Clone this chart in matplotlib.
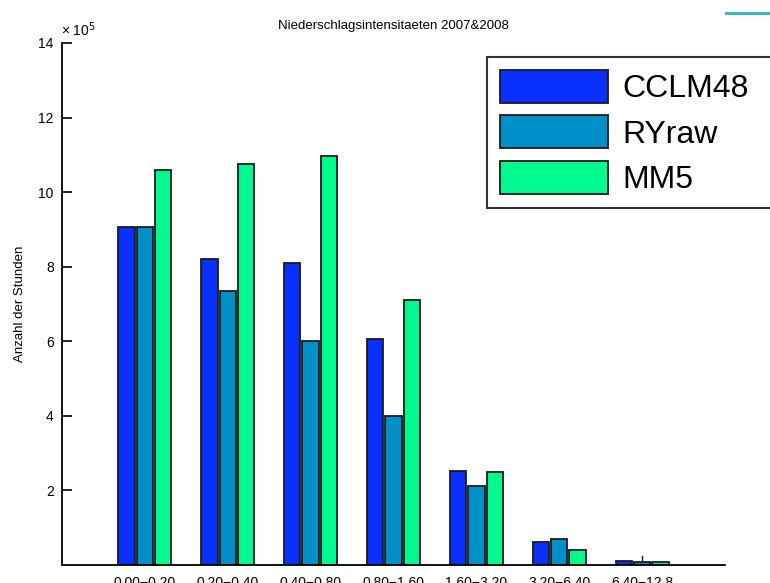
import numpy as np
import matplotlib
matplotlib.use("Agg")
import matplotlib.pyplot as plt
from matplotlib.ticker import FuncFormatter
from matplotlib.lines import Line2D

plt.rcParams['font.family'] = ['Liberation Sans', 'DejaVu Sans']

# precipitation intensity classes (mm/h)
classes = ["0.00\u22120.20", "0.20\u22120.40", "0.40\u22120.80", "0.80\u22121.60",
           "1.60\u22123.20", "3.20\u22126.40", "6.40\u221212.8"]

# number of hours per class
cclm48 = [9.07e5, 8.22e5, 8.10e5, 6.05e5, 2.53e5, 0.61e5, 0.12e5]
ryraw = [9.07e5, 7.36e5, 6.01e5, 4.00e5, 2.12e5, 0.69e5, 0.08e5]
mm5 = [10.59e5, 10.75e5, 10.97e5, 7.11e5, 2.49e5, 0.40e5, 0.08e5]

# y tick values (hours)
yticks = [2e5, 4e5, 6e5, 8e5, 10e5, 12e5, 14e5]
exponent = 5

series = [("CCLM48", cclm48, "#0A30FF"),
          ("RYraw", ryraw, "#0090C8"),
          ("MM5", mm5, "#00FA90")]

W, H, DPI = 770, 583, 100
fig = plt.figure(figsize=(W / DPI, H / DPI), dpi=DPI)
ax = fig.add_axes([62 / W, 1 - 565 / H, (725 - 62) / W, (565 - 43) / H])

x = np.arange(1, len(classes) + 1)
bw = 0.198
pitch = 0.222
for i, (name, vals, col) in enumerate(series):
    ax.bar(x + (i - 1) * pitch, vals, width=bw, color=col,
           edgecolor="#1a1a1a", linewidth=1.3, label=name, zorder=2)

# small stem on top of the last RYraw bar
ax.plot([x[-1], x[-1]], [ryraw[-1], ryraw[-1] + 0.15e5], color="#1a1a1a",
        linewidth=1.0, zorder=3)

ax.set_xlim(0, 8)
ax.set_ylim(0, 14e5)
ax.set_yticks(yticks)
ax.yaxis.set_major_formatter(FuncFormatter(lambda v, p: f"{v / 10**exponent:g}"))
ax.set_xticks(x)
ax.set_xticklabels(classes, fontsize=10)

# exponent label above the y axis
ax.annotate(r"× 10$^{%d}$" % exponent, xy=(0, 1), xycoords="axes fraction",
            xytext=(-1, 3), textcoords="offset points", ha="left", va="bottom",
            fontsize=10)

ax.tick_params(axis="y", direction="in", length=7, width=1.2, labelsize=10, pad=6)
ax.tick_params(axis="x", length=0, pad=8)
for s in ("top", "right"):
    ax.spines[s].set_visible(False)
for s in ("left", "bottom"):
    ax.spines[s].set_linewidth(1.3)

ax.set_title("Niederschlagsintensitaeten 2007&2008", fontsize=9.5, pad=10)
ax.set_ylabel("Anzahl der Stunden", fontsize=9.5, labelpad=9)

leg_top = 1 - 57 / H
leg = fig.legend(loc="upper left", bbox_to_anchor=(487 / W, leg_top - 0.01, 330 / W, 0.01),
                 bbox_transform=fig.transFigure, mode="expand", fontsize=23,
                 frameon=True, fancybox=False, edgecolor="black", borderpad=0.4,
                 handlelength=3.4, handleheight=1.2, handletextpad=0.45,
                 labelspacing=0.36, borderaxespad=0)
leg.get_frame().set_linewidth(1.5)

# teal line segment in the upper right corner
fig.add_artist(Line2D([726 / W, 1.0], [1 - 12.5 / H, 1 - 12.5 / H],
                      transform=fig.transFigure, color="#28B4BE", linewidth=2))

fig.savefig("out.png", dpi=DPI)
